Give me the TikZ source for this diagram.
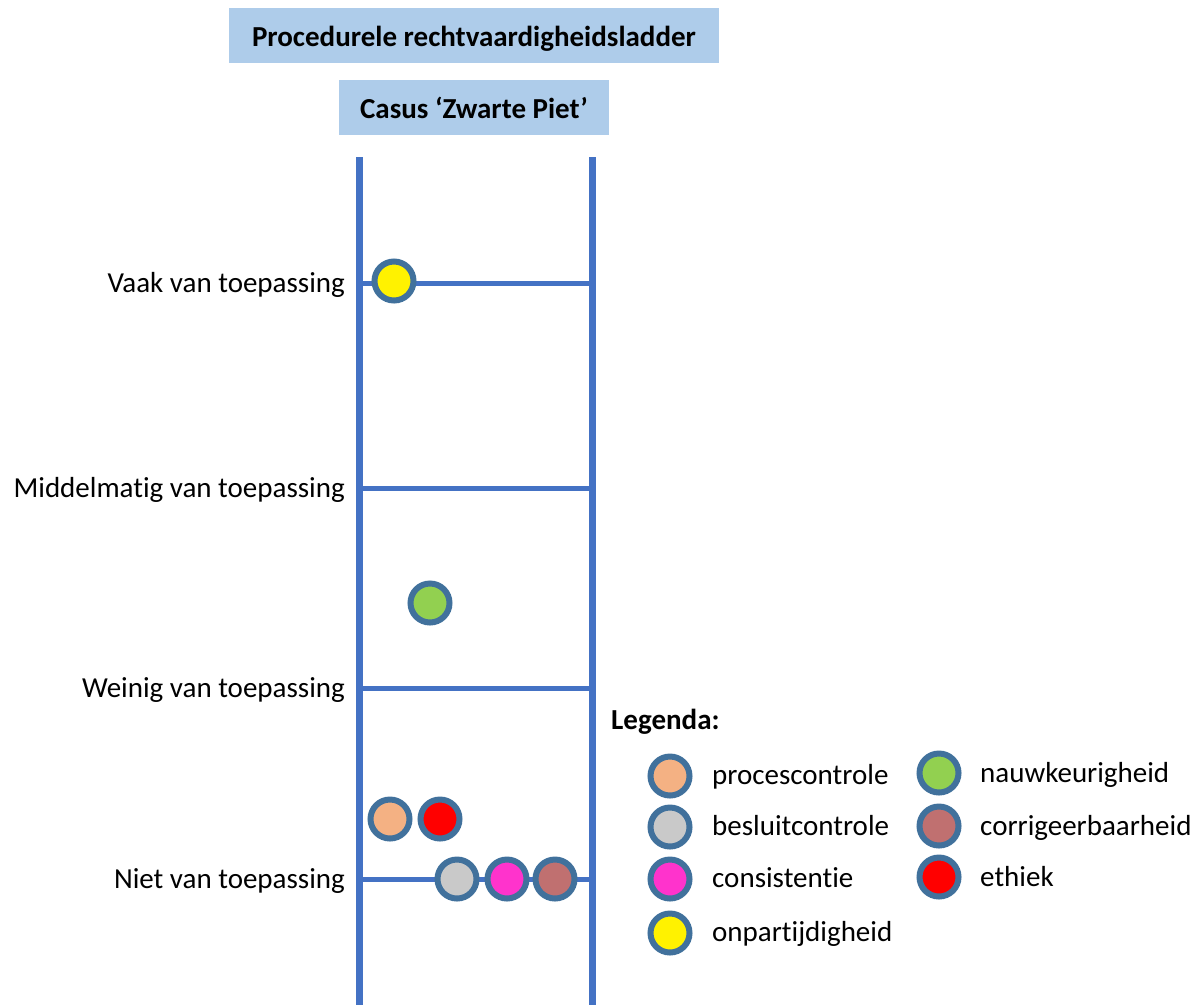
\documentclass[tikz,border=0pt]{standalone}
\usepackage{fontspec}
\setmainfont{Carlito}[Ligatures=NoCommon]

\definecolor{railblue}{RGB}{68,114,196}
\definecolor{ringblue}{RGB}{65,113,156}
\definecolor{titlefill}{RGB}{174,204,234}
\definecolor{procfill}{RGB}{244,177,131}
\definecolor{beslfill}{RGB}{201,201,201}
\definecolor{consfill}{RGB}{255,51,204}
\definecolor{nauwfill}{RGB}{146,208,80}
\definecolor{corrfill}{RGB}{192,112,112}

\tikzset{
  ball/.style={circle, draw=ringblue, line width=6pt, minimum size=39pt, inner sep=0pt},
  rail/.style={railblue, line width=7pt},
  rung/.style={railblue, line width=5pt},
  titlebox/.style={fill=titlefill, inner sep=0pt, text height=21pt, text depth=0pt,
                   font=\fontsize{29}{35}\selectfont\bfseries},
  lbl/.style={anchor=base east, inner sep=0pt},
  leg/.style={anchor=base west, inner sep=0pt},
}

\begin{document}
\begin{tikzpicture}[x=1pt, y=-1pt, font=\fontsize{29}{35}\selectfont]
    \newcommand{\lrail}{359.5}
    \newcommand{\rrail}{592}
    \newcommand{\railtop}{157}
    \newcommand{\railbot}{1005}

    \useasboundingbox (0,0) rectangle (1201,1005);

    % titles
    \node[titlebox, minimum width=490pt, minimum height=55pt] (title) at (474,35.5) {Procedurele rechtvaardigheidsladder};
    \node[titlebox, minimum width=270pt, minimum height=55pt] (casus) at (474,107.5) {Casus ‘Zwarte Piet’};

    % rails
    \coordinate (ltop) at (\lrail,\railtop);
    \coordinate (lbot) at (\lrail,\railbot);
    \coordinate (rtop) at (\rrail,\railtop);
    \coordinate (rbot) at (\rrail,\railbot);
    \draw[rail] (ltop) -- (lbot);
    \draw[rail] (rtop) -- (rbot);

    % rungs and their labels
    \foreach \y/\name/\txt in {283/vaak/Vaak van toepassing,
                               488/midd/Middelmatig van toepassing,
                               688/wein/Weinig van toepassing,
                               879/niet/Niet van toepassing} {
      \coordinate (\name l) at (\lrail,\y);
      \coordinate (\name r) at (\rrail,\y);
      \draw[rung] (\name l) -- (\name r);
      \node[lbl] (\name) at (345,\y+9) {\txt};
    }

    % scores on the ladder
    \node[ball, fill=yellow]   (onp)  at (394,281) {};
    \node[ball, fill=nauwfill] (nauw) at (430,603) {};
    \node[ball, fill=procfill] (proc) at (390,819) {};
    \node[ball, fill=red]      (eth)  at (440,819) {};
    \node[ball, fill=beslfill] (besl) at (457,879) {};
    \node[ball, fill=consfill] (cons) at (507,879) {};
    \node[ball, fill=corrfill] (corr) at (555,879) {};

    % legend
    \node[leg, font=\fontsize{29}{35}\selectfont\bfseries] (legenda) at (611,729) {Legenda:};
    \foreach \y/\col/\name/\txt in {776/procfill/lproc/procescontrole,
                                    827/beslfill/lbesl/besluitcontrole,
                                    879/consfill/lcons/consistentie,
                                    933/yellow/lonp/onpartijdigheid} {
      \node[ball, fill=\col] (\name) at (670,\y) {};
      \node[leg] (\name t) at (712,\y+8) {\txt};
    }
    \foreach \y/\col/\name/\txt in {773/nauwfill/lnauw/nauwkeurigheid,
                                    826/corrfill/lcorr/corrigeerbaarheid,
                                    877/red/leth/ethiek} {
      \node[ball, fill=\col] (\name) at (939,\y) {};
      \node[leg] (\name t) at (980,\y+9) {\txt};
    }
\end{tikzpicture}
\end{document}
